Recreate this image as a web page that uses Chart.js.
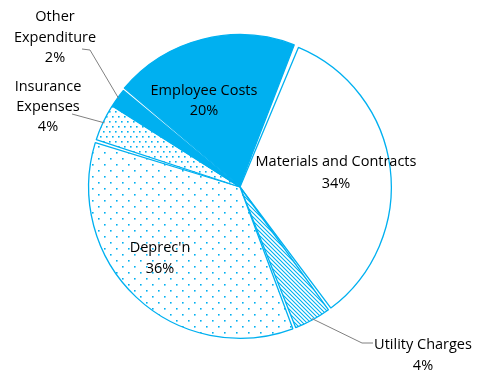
<!DOCTYPE html>
<html>
<head>
<meta charset="utf-8">
<script src="https://cdn.jsdelivr.net/npm/chart.js@4.4.1/dist/chart.umd.min.js"></script>
<style>
  html, body { margin: 0; padding: 0; background: #fff; }
  #wrap { width: 478px; height: 378px; }
</style>
</head>
<body>
<div id="wrap"><canvas id="pie" width="478" height="378"></canvas></div>
<script>
// expenditure breakdown, clockwise from the top
const categories = ['Materials and Contracts', 'Utility Charges', "Deprec'n", 'Insurance Expenses', 'Other Expenditure', 'Employee Costs'];
const shares = [34, 4, 36, 4, 2, 20];
const pctLabels = ['34%', '4%', '36%', '4%', '2%', '20%'];

const BLUE = '#00b0f0';

// small tiles for the pattern fills
function makePattern(w, h, draw) {
  const c = document.createElement('canvas');
  c.width = w; c.height = h;
  const g = c.getContext('2d');
  g.fillStyle = '#fff';
  g.fillRect(0, 0, w, h);
  draw(g);
  return document.getElementById('pie').getContext('2d').createPattern(c, 'repeat');
}

const sparseDots = makePattern(12, 12, g => {
  g.fillStyle = BLUE;
  g.fillRect(2, 2, 1.6, 1.6);
  g.fillRect(8, 8, 1.6, 1.6);
});
const denseDots = makePattern(6, 10, g => {
  g.fillStyle = BLUE;
  g.fillRect(1, 1, 1.6, 1.6);
  g.fillRect(4, 6, 1.6, 1.6);
});
const hatch = makePattern(4, 4, g => {
  g.strokeStyle = BLUE;
  g.lineWidth = 1.1;
  g.beginPath();
  g.moveTo(-1, -1); g.lineTo(5, 5);
  g.moveTo(-1, 3); g.lineTo(1, 5);
  g.moveTo(3, -1); g.lineTo(5, 1);
  g.stroke();
});

const fills = ['#ffffff', hatch, sparseDots, denseDots, BLUE, BLUE];

// label text layout: lines, centre x, y of first line, line gap, leader elbow points
const labelLayout = [
  { lines: [categories[0], pctLabels[0]], x: 336, y: 162, gap: 22 },
  { lines: [categories[1], pctLabels[1]], x: 423, y: 345, gap: 21, leader: [[373, 343], [362, 343]] },
  { lines: [categories[2], pctLabels[2]], x: 160, y: 248, gap: 21 },
  { lines: ['Insurance', 'Expenses', pctLabels[3]], x: 48, y: 87, gap: 20, leader: [[72, 114]] },
  { lines: ['Other', 'Expenditure', pctLabels[4]], x: 55, y: 17, gap: 20.5, leader: [[82, 49], [90, 50]] },
  { lines: [categories[5], pctLabels[5]], x: 204, y: 91, gap: 19.5 }
];

const labelPlugin = {
  id: 'sliceLabels',
  afterDatasetsDraw(chart) {
    const ctx = chart.ctx;
    const meta = chart.getDatasetMeta(0);
    ctx.save();
    meta.data.forEach((arc, i) => {
      const L = labelLayout[i];
      if (L.leader) {
        const p = arc.getProps(['x', 'y', 'startAngle', 'endAngle', 'outerRadius'], true);
        const mid = (p.startAngle + p.endAngle) / 2;
        const ex = p.x + Math.cos(mid) * p.outerRadius;
        const ey = p.y + Math.sin(mid) * p.outerRadius;
        ctx.strokeStyle = '#808080';
        ctx.lineWidth = 1;
        ctx.beginPath();
        ctx.moveTo(L.leader[0][0], L.leader[0][1]);
        L.leader.slice(1).forEach(pt => ctx.lineTo(pt[0], pt[1]));
        ctx.lineTo(ex, ey);
        ctx.stroke();
      }
      ctx.fillStyle = '#000';
      ctx.font = '14.5px "Open Sans"';
      ctx.textAlign = 'center';
      ctx.textBaseline = 'middle';
      L.lines.forEach((t, k) => ctx.fillText(t, L.x, L.y + k * L.gap));
    });
    ctx.restore();
  }
};

new Chart(document.getElementById('pie'), {
  type: 'pie',
  data: {
    labels: categories,
    datasets: [{
      data: shares,
      backgroundColor: fills,
      borderColor: BLUE,
      borderWidth: 1.3,
      spacing: 2.5,
      offset: [0, 0, 0, 0, 0, 4],
      hoverOffset: 0
    }]
  },
  options: {
    responsive: false,
    animation: false,
    rotation: 21.7,
    layout: { padding: { left: 86, right: 84, top: 32, bottom: 36 } },
    plugins: {
      legend: { display: false },
      tooltip: { enabled: false }
    }
  },
  plugins: [labelPlugin]
});
</script>
</body>
</html>
